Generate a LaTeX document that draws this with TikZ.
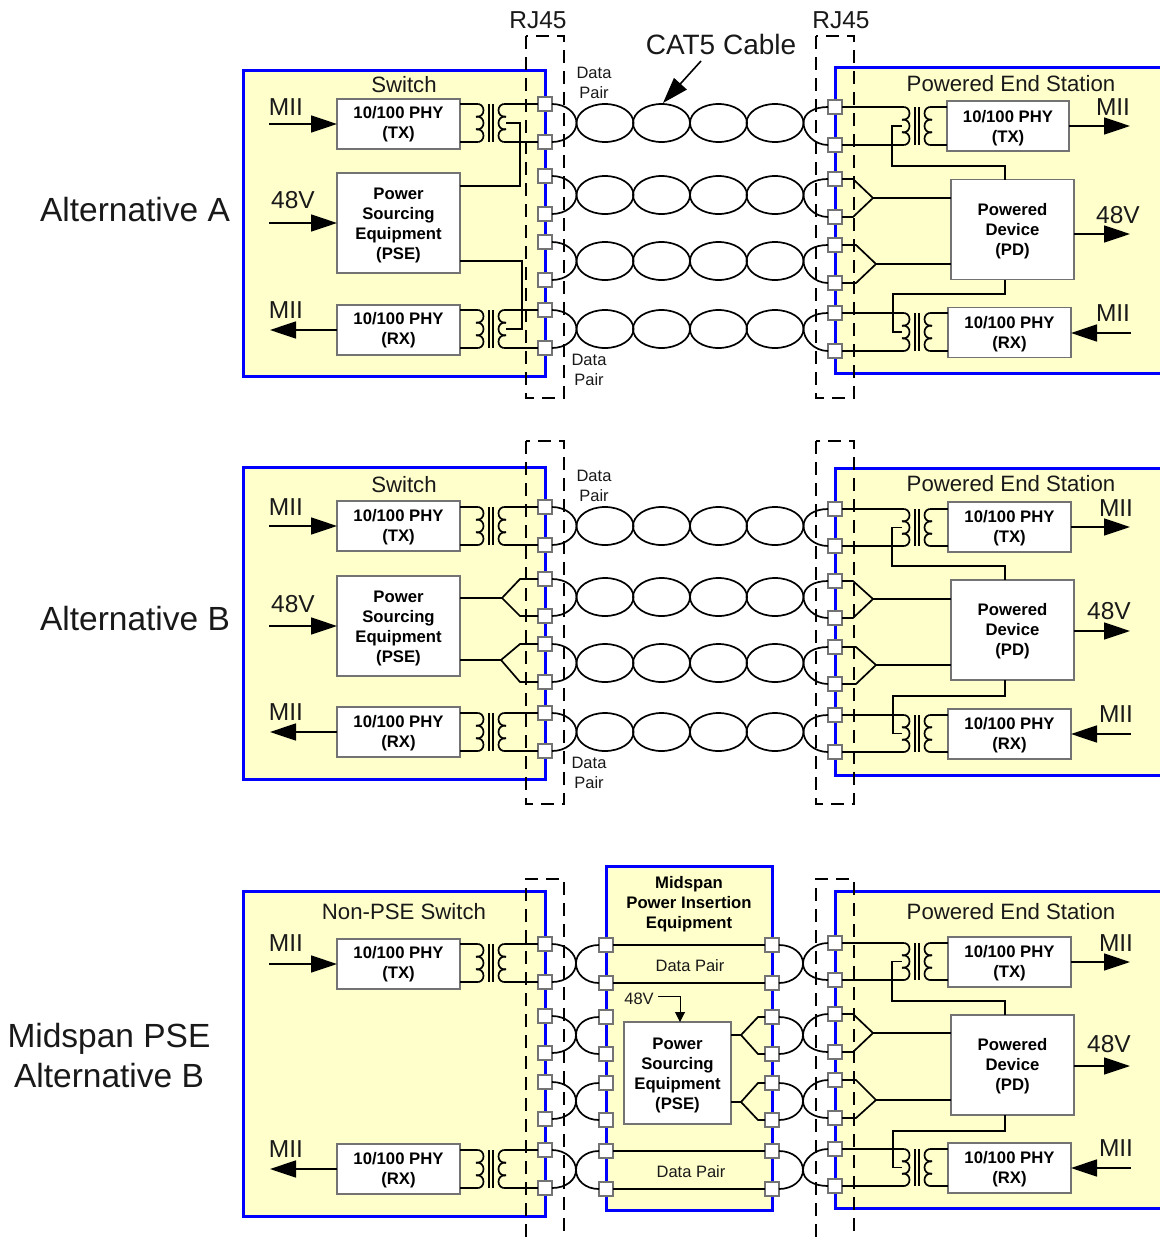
\documentclass[tikz,border=0pt]{standalone}
\usepackage{fontspec}
\setmainfont{Liberation Sans}
\usetikzlibrary{shapes.geometric,arrows.meta}

\definecolor{panelfill}{HTML}{FFFFCC}

\tikzset{
	panel/.style={draw=blue, line width=3, fill=panelfill},
	rjdash/.style={black, line width=1.6, dash pattern=on 13pt off 8pt},
	wire/.style={black, line width=1.7},
	port/.style={rectangle, draw=black!55, line width=1.2, fill=white, minimum size=14, inner sep=0, outer sep=0},
	twist/.style={ellipse, draw=black, line width=1.7, minimum width=57, minimum height=38, inner sep=0, outer sep=0},
	chip/.style={rectangle, draw=black!55, line width=1.1, fill=white, minimum width=123, align=center, inner sep=0, outer sep=0, font=\bfseries\fontsize{16.7}{20}\selectfont},
	sig/.style={line width=1.6, -{Triangle[length=26pt,width=17pt]}},
	lab/.style={inner sep=0, align=center, text=black!90},
	huge lab/.style={lab, font=\fontsize{33.5}{40}\selectfont},
	big lab/.style={lab, font=\fontsize{24.5}{28}\selectfont},
	mid lab/.style={lab, font=\fontsize{22.2}{26}\selectfont},
	small lab/.style={lab, font=\fontsize{16.5}{20}\selectfont},
}

% push the text of a box down a little
\newcommand{\liftA}{\rule{0pt}{14pt}}
\newcommand{\liftB}{\rule{0pt}{16pt}}
% one column of eight pins
\newcommand{\portcol}[3]{
	\foreach \yy [count=\i] in {#3}
		\node[port] (#1\i) at (#2,\yy) {};
}
% four loops of twisted pair
\newcommand{\twistrow}[2]{
	\foreach \xx [count=\i] in {605,661.5,718.5,775}
		\node[twist] (#1\i) at (\xx,#2) {};
}
\newcommand{\humpL}[3]{
	\draw[wire] (#1.east) .. controls +(14,0) and +(0,-10) .. (#3) .. controls +(0,10) and +(14,0) .. (#2.east);
}
\newcommand{\humpR}[3]{
	\draw[wire] (#1.west) .. controls +(-14,0) and +(0,-10) .. (#3) .. controls +(0,10) and +(-14,0) .. (#2.west);
}
% transformer: a,b = left coil ends, c,d = right coil ends, m,n = centre taps
\newcommand{\xfmr}[4]{
	\coordinate (#1a) at (#2-15,#3);
	\coordinate (#1b) at (#2-15,#4);
	\coordinate (#1c) at (#2+15,#3);
	\coordinate (#1d) at (#2+15,#4);
	\coordinate (#1m) at (#2-15,{(#3+#4)/2});
	\coordinate (#1n) at (#2+15,{(#3+#4)/2});
	\foreach \kk in {0,1,2} {
		\draw[wire] (#2-15,{#3+\kk*(#4-#3)/3}) .. controls +(10,-1.5) and +(10,1.5) .. (#2-15,{#3+(\kk+1)*(#4-#3)/3});
		\draw[wire] (#2+15,{#3+\kk*(#4-#3)/3}) .. controls +(-10,-1.5) and +(-10,1.5) .. (#2+15,{#3+(\kk+1)*(#4-#3)/3});
	}
	\draw[wire] (#2-2,#3) -- (#2-2,#4);
	\draw[wire] (#2+2,#3) -- (#2+2,#4);
}
% transformer on the switch side: box, transformer, top pin, bottom pin
\newcommand{\wireL}[4]{
	\draw[wire] (#1.east |- #2a) -- (#2a);
	\draw[wire] (#1.east |- #2b) -- (#2b);
	\draw[wire] (#2c) -- (#3.west);
	\draw[wire] (#2d) -- (#4.west);
}
\newcommand{\wireR}[4]{
	\draw[wire] (#1.west |- #2c) -- (#2c);
	\draw[wire] (#1.west |- #2d) -- (#2d);
	\draw[wire] (#2a) -- (#3.east);
	\draw[wire] (#2b) -- (#4.east);
}
\newcommand{\tapR}[5]{
	\coordinate (#1bend) at (#2,#3);
	\coordinate (#1drop) at (1005,#3);
	\draw[wire] (#1m) -| (#1bend) -- (#1drop) -- (#4.#5 -| #1drop);
}
% pins, tip x, knee x, box, tip y
\newcommand{\fanR}[6]{
	\coordinate (#1f) at (#3,#6);
	\draw[wire] (#1.east) -- (#4,0 |- #1.east) -- (#1f) -- (#4,0 |- #2.east) -- (#2.east);
	\draw[wire] (#1f) -- (#5.west |- #1f);
}
\newcommand{\fanL}[6]{
	\coordinate (#1f) at (#3,#6);
	\draw[wire] (#1.west) -- (#4,0 |- #1.west) -- (#1f) -- (#4,0 |- #2.west) -- (#2.west);
	\draw[wire] (#1f) -- (#5.east |- #1f);
}

\begin{document}
\begin{tikzpicture}[x=1pt, y=-1pt]
	\useasboundingbox (0,0) rectangle (1160,1237);

	% Alternative A
	\draw[panel] (243,70) rectangle (545,376);
	\fill[panelfill] (835,67) rectangle (1160,373);
	\draw[panel, fill=none] (1160,67) -- (835,67) -- (835,373) -- (1160,373);
	\draw[rjdash] (526,36) rectangle (564,398);
	\draw[rjdash] (816,36) rectangle (854,398);

	\portcol{portLA}{545}{104,142,176,214,242,280,310,348}
	\portcol{portRA}{835}{107,145,179,217,245,283,313,351}
	\twistrow{twA1}{123}
	\twistrow{twA2}{195}
	\twistrow{twA3}{261}
	\twistrow{twA4}{329}
	\foreach \r/\pa/\pb in {1/1/2,2/3/4,3/5/6,4/7/8} {
		\humpL{portLA\pa}{portLA\pb}{twA\r1.west}
		\humpR{portRA\pa}{portRA\pb}{twA\r4.east}
	}

	\node[chip, minimum height=50] (txLA) at (398.5,124) {10/100 PHY\\(TX)};
	\node[chip, minimum height=100] (pseA) at (398.5,223) {\liftB Power\\Sourcing\\Equipment\\(PSE)};
	\node[chip, minimum height=50] (rxLA) at (398.5,330) {10/100 PHY\\(RX)};
	\node[chip, minimum height=50, minimum width=122] (txRA) at (1008,126) {\liftB 10/100 PHY\\(TX)};
	\node[chip, minimum height=100] (pdA) at (1012.5,229.5) {\liftB Powered\\Device\\(PD)};
	\node[chip, minimum height=50] (rxRA) at (1009.5,332.5) {\liftB 10/100 PHY\\(RX)};

	\xfmr{tfTA}{491}{104}{142}
	\wireL{txLA}{tfTA}{portLA1}{portLA2}
	\xfmr{tfRA}{491}{310}{348}
	\wireL{rxLA}{tfRA}{portLA7}{portLA8}
	\xfmr{tfPTA}{917}{107}{145}
	\wireR{txRA}{tfPTA}{portRA1}{portRA2}
	\xfmr{tfPRA}{917}{313}{351}
	\wireR{rxRA}{tfPRA}{portRA7}{portRA8}

	\coordinate (bendA1) at (520,186);
	\coordinate (bendA2) at (522,261);
	\draw[wire] (tfTAn) -| (bendA1) -- (pseA.east |- bendA1);
	\draw[wire] (tfRAn) -| (bendA2) -- (pseA.east |- bendA2);
	\tapR{tfPTA}{892}{166}{pdA}{north}
	\tapR{tfPRA}{893}{294}{pdA}{south}
	\fanR{portRA3}{portRA4}{873}{853}{pdA}{198}
	\fanR{portRA5}{portRA6}{876}{856}{pdA}{264}

	\coordinate (miiInA) at (269,124);
	\coordinate (dcInA) at (269,223);
	\coordinate (miiOutA) at (270,330);
	\coordinate (miiOutRA) at (1130,126);
	\coordinate (dcOutA) at (1130,234);
	\coordinate (miiInRA) at (1131,333);
	\coordinate (cableTail) at (701,61);
	\coordinate (cableHead) at (663,103);
	\draw[sig] (miiInA) -- (txLA.west);
	\draw[sig] (dcInA) -- (pseA.west);
	\draw[sig] (rxLA.west) -- (miiOutA);
	\draw[sig] (txRA.east) -- (miiOutRA);
	\draw[sig] (pdA.east |- dcOutA) -- (dcOutA);
	\draw[sig] (miiInRA) -- (rxRA.east |- miiInRA);
	\draw[sig] (cableTail) -- (cableHead);

	\node[huge lab] (altA) at (135,210) {Alternative A};
	\node[mid lab] (switchA) at (404,85) {Switch};
	\node[mid lab] (endA) at (1011,84) {Powered End Station};
	\node[big lab] (rjL) at (538,20) {RJ45};
	\node[big lab] (rjR) at (841,20) {RJ45};
	\node[lab, font=\fontsize{28}{32}\selectfont] (cat) at (721,44.5) {CAT5 Cable};
	\node[small lab] (dpA1) at (594,83) {Data\\Pair};
	\node[small lab] (dpA2) at (589,370) {Data\\Pair};
	\node[big lab] (mA1) at (286,107) {MII};
	\node[big lab] (vA1) at (293,200) {48V};
	\node[big lab] (mA2) at (286,310) {MII};
	\node[big lab] (mA3) at (1113,107) {MII};
	\node[big lab] (vA2) at (1118,215) {48V};
	\node[big lab] (mA4) at (1113,313) {MII};

	% Alternative B
	\draw[panel] (243,467) rectangle (545,779);
	\fill[panelfill] (835,468) rectangle (1160,775);
	\draw[panel, fill=none] (1160,468) -- (835,468) -- (835,775) -- (1160,775);
	\draw[rjdash] (526,441) rectangle (564,804);
	\draw[rjdash] (816,441) rectangle (854,804);

	\portcol{portLB}{545}{507,545,579,616,644,682,713,751}
	\portcol{portRB}{835}{509,546,581,618,647,684,715,752}
	\twistrow{twB1}{526}
	\twistrow{twB2}{597}
	\twistrow{twB3}{663}
	\twistrow{twB4}{732}
	\foreach \r/\pa/\pb in {1/1/2,2/3/4,3/5/6,4/7/8} {
		\humpL{portLB\pa}{portLB\pb}{twB\r1.west}
		\humpR{portRB\pa}{portRB\pb}{twB\r4.east}
	}

	\node[chip, minimum height=50] (txLB) at (398.5,526) {\liftA 10/100 PHY\\(TX)};
	\node[chip, minimum height=100] (pseB) at (398.5,626) {\liftB Power\\Sourcing\\Equipment\\(PSE)};
	\node[chip, minimum height=50] (rxLB) at (398.5,732) {\liftA 10/100 PHY\\(RX)};
	\node[chip, minimum height=50] (txRB) at (1009.5,527) {\liftA 10/100 PHY\\(TX)};
	\node[chip, minimum height=100] (pdB) at (1012.5,630) {\liftA Powered\\Device\\(PD)};
	\node[chip, minimum height=50] (rxRB) at (1009.5,734) {\liftA 10/100 PHY\\(RX)};

	\xfmr{tfTB}{491}{507}{545}
	\wireL{txLB}{tfTB}{portLB1}{portLB2}
	\xfmr{tfRB}{491}{713}{751}
	\wireL{rxLB}{tfRB}{portLB7}{portLB8}
	\xfmr{tfPTB}{917}{509}{546}
	\wireR{txRB}{tfPTB}{portRB1}{portRB2}
	\xfmr{tfPRB}{917}{715}{752}
	\wireR{rxRB}{tfPRB}{portRB7}{portRB8}

	\fanL{portLB3}{portLB4}{502}{520}{pseB}{598}
	\fanL{portLB5}{portLB6}{501}{520}{pseB}{660}
	\tapR{tfPTB}{892}{566}{pdB}{north}
	\tapR{tfPRB}{893}{696}{pdB}{south}
	\fanR{portRB3}{portRB4}{873}{853}{pdB}{599}
	\fanR{portRB5}{portRB6}{876}{856}{pdB}{665}

	\coordinate (miiInB) at (269,526);
	\coordinate (dcInB) at (269,626);
	\coordinate (miiOutB) at (270,732);
	\coordinate (miiOutRB) at (1130,527);
	\coordinate (dcOutB) at (1130,631);
	\coordinate (miiInRB) at (1131,734);
	\draw[sig] (miiInB) -- (txLB.west);
	\draw[sig] (dcInB) -- (pseB.west);
	\draw[sig] (rxLB.west) -- (miiOutB);
	\draw[sig] (txRB.east) -- (miiOutRB);
	\draw[sig] (pdB.east |- dcOutB) -- (dcOutB);
	\draw[sig] (miiInRB) -- (rxRB.east);

	\node[huge lab] (altB) at (135,619) {Alternative B};
	\node[mid lab] (switchB) at (404,485) {Switch};
	\node[mid lab] (endB) at (1011,484) {Powered End Station};
	\node[small lab] (dpB1) at (594,486) {Data\\Pair};
	\node[small lab] (dpB2) at (589,773) {Data\\Pair};
	\node[big lab] (mB1) at (286,507) {MII};
	\node[big lab] (vB1) at (293,604) {48V};
	\node[big lab] (mB2) at (286,712) {MII};
	\node[big lab] (mB3) at (1116,508) {MII};
	\node[big lab] (vB2) at (1109,611) {48V};
	\node[big lab] (mB4) at (1116,714) {MII};

	% Midspan PSE
	\draw[panel] (243,891) rectangle (545,1216);
	\draw[panel] (606,866) rectangle (772,1210);
	\fill[panelfill] (835,891) rectangle (1160,1208);
	\draw[panel, fill=none] (1160,891) -- (835,891) -- (835,1208) -- (1160,1208);
	\draw[rjdash] (526,1237) -- (526,879) -- (564,879) -- (564,1237);
	\draw[rjdash] (816,1237) -- (816,879) -- (854,879) -- (854,1237);

	\portcol{portLC}{545}{944,982,1016,1053,1082,1119,1150,1188}
	\portcol{portMC}{606}{945,983,1017,1054,1083,1120,1151,1189}
	\portcol{portNC}{772}{945,983,1017,1054,1083,1120,1151,1189}
	\portcol{portRC}{835}{943,980,1014,1052,1080,1118,1149,1186}
	\foreach \r/\pa/\pb/\yy in {1/1/2/963.5,2/3/4/1035,3/5/6/1101,4/7/8/1170} {
		\coordinate (tipL\r) at (576,\yy);
		\coordinate (tipR\r) at (803,\yy);
		\humpL{portLC\pa}{portLC\pb}{tipL\r}
		\humpR{portMC\pa}{portMC\pb}{tipL\r}
		\humpL{portNC\pa}{portNC\pb}{tipR\r}
		\humpR{portRC\pa}{portRC\pb}{tipR\r}
	}
	\foreach \i in {1,2,7,8}
		\draw[wire] (portMC\i.east) -- (portNC\i.west);

	\node[chip, minimum height=50] (txLC) at (398.5,964) {10/100 PHY\\(TX)};
	\node[chip, minimum height=50] (rxLC) at (398.5,1169) {\liftA 10/100 PHY\\(RX)};
	\node[chip, minimum width=107, minimum height=102] (pseC) at (677.5,1073) {\liftB Power\\Sourcing\\Equipment\\(PSE)};
	\node[chip, minimum height=50] (txRC) at (1009.5,962) {\liftA 10/100 PHY\\(TX)};
	\node[chip, minimum height=100] (pdC) at (1012.5,1065) {\liftA Powered\\Device\\(PD)};
	\node[chip, minimum height=50] (rxRC) at (1009.5,1168) {\liftA 10/100 PHY\\(RX)};

	\xfmr{tfTC}{491}{944}{982}
	\wireL{txLC}{tfTC}{portLC1}{portLC2}
	\xfmr{tfRC}{491}{1150}{1188}
	\wireL{rxLC}{tfRC}{portLC7}{portLC8}
	\xfmr{tfPTC}{917}{943}{980}
	\wireR{txRC}{tfPTC}{portRC1}{portRC2}
	\xfmr{tfPRC}{917}{1149}{1186}
	\wireR{rxRC}{tfPRC}{portRC7}{portRC8}

	\fanL{portNC3}{portNC4}{741}{758}{pseC}{1035}
	\fanL{portNC5}{portNC6}{741}{758}{pseC}{1102}
	\tapR{tfPTC}{892}{1001}{pdC}{north}
	\tapR{tfPRC}{893}{1131}{pdC}{south}
	\fanR{portRC3}{portRC4}{873}{853}{pdC}{1033}
	\fanR{portRC5}{portRC6}{876}{856}{pdC}{1100}

	\coordinate (miiInC) at (269,964);
	\coordinate (miiOutC) at (270,1169);
	\coordinate (miiOutRC) at (1130,962);
	\coordinate (dcOutC) at (1130,1066);
	\coordinate (miiInRC) at (1131,1168);
	\coordinate (dcMid) at (658,996);
	\draw[sig] (miiInC) -- (txLC.west);
	\draw[sig] (rxLC.west) -- (miiOutC);
	\draw[sig] (txRC.east) -- (miiOutRC);
	\draw[sig] (pdC.east |- dcOutC) -- (dcOutC);
	\draw[sig] (miiInRC) -- (rxRC.east);
	\draw[black, line width=1, -{Triangle[length=10pt,width=10pt]}] (dcMid) -| (680,0 |- pseC.north);

	\node[lab, font=\fontsize{33.5}{40}\selectfont] (altC) at (109,1055.5) {Midspan PSE\\Alternative B};
	\node[mid lab] (switchC) at (404,912) {Non-PSE Switch};
	\node[mid lab] (endC) at (1011,912) {Powered End Station};
	\node[lab, text=black, font=\bfseries\fontsize{16.7}{20}\selectfont] (midspan) at (689,904) {Midspan\\Power Insertion\\Equipment};
	\node[small lab] (dpC1) at (690,966) {Data Pair};
	\node[small lab] (dpC2) at (691,1172) {Data Pair};
	\node[small lab] (vMid) at (639,999) {48V};
	\node[big lab] (mC1) at (286,943) {MII};
	\node[big lab] (mC2) at (286,1149) {MII};
	\node[big lab] (mC3) at (1116,943) {MII};
	\node[big lab] (vC1) at (1109,1044) {48V};
	\node[big lab] (mC4) at (1116,1148) {MII};
\end{tikzpicture}
\end{document}
